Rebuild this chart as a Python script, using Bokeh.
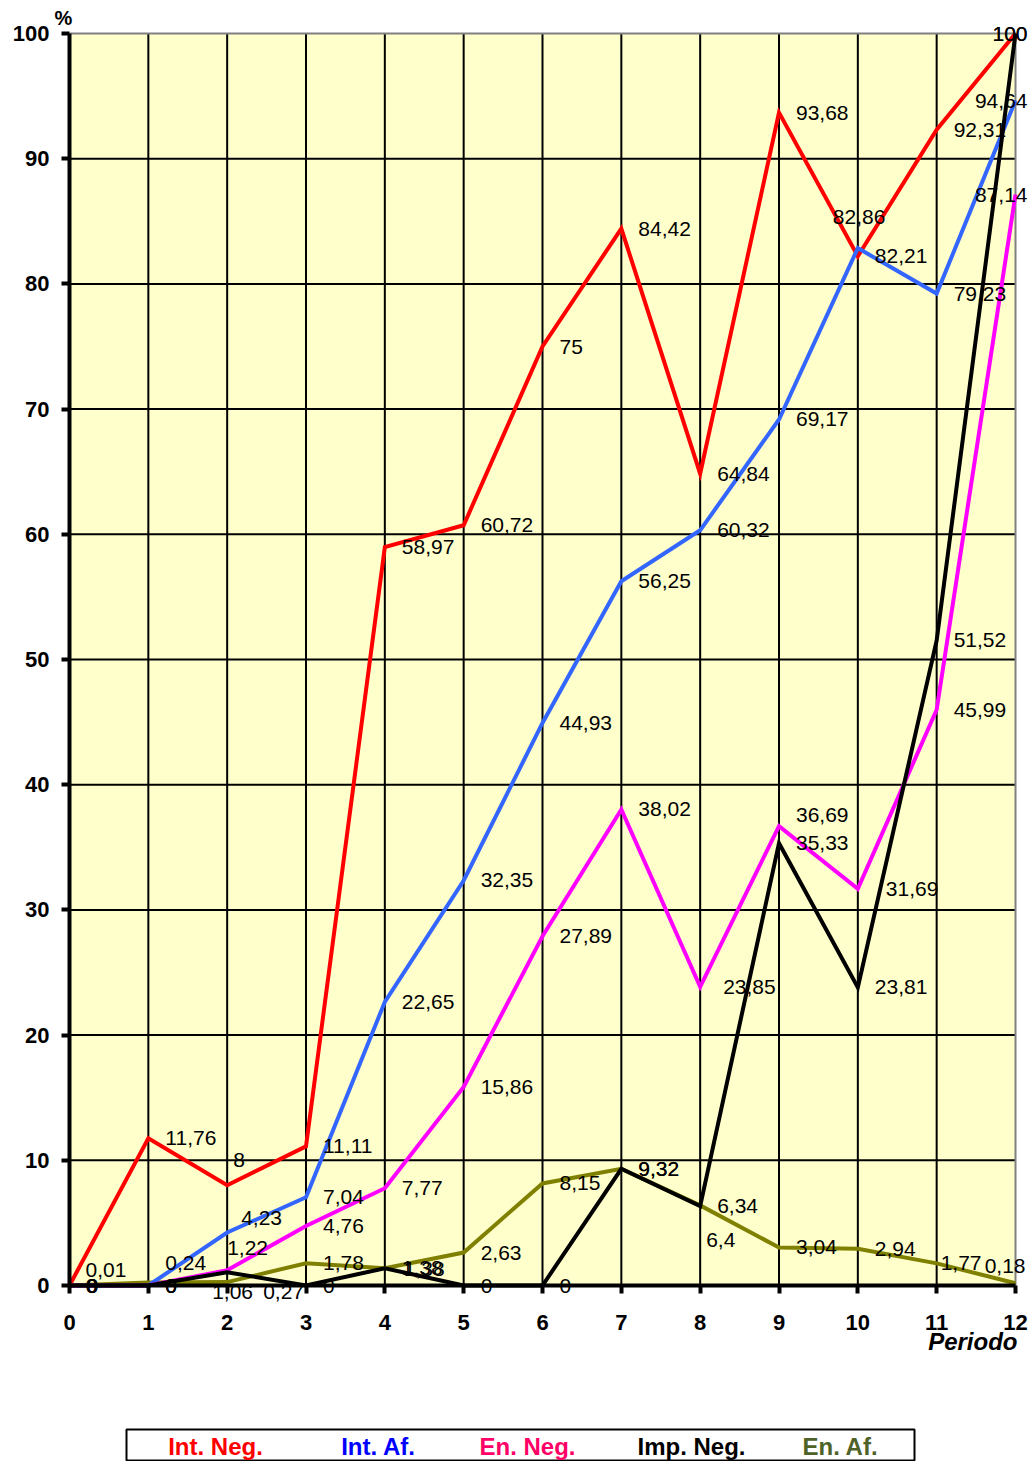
from bokeh.plotting import figure
from bokeh.models import (Range1d, FixedTicker, ColumnDataSource, LabelSet, Label,
                          LinearAxis, BoxAnnotation)
from bokeh.layouts import column
from bokeh.embed import file_html
from bokeh.resources import INLINE
from bokeh.core.properties import value

# ---- data -------------------------------------------------------------
periods = list(range(13))
int_neg = [0, 11.76, 8, 11.11, 58.97, 60.72, 75, 84.42, 64.84, 93.68, 82.21, 92.31, 100]
int_af = [0, 0, 4.23, 7.04, 22.65, 32.35, 44.93, 56.25, 60.32, 69.17, 82.86, 79.23, 94.64]
en_neg = [0, 0, 1.22, 4.76, 7.77, 15.86, 27.89, 38.02, 23.85, 36.69, 31.69, 45.99, 87.14]
imp_neg = [0, 0, 1.06, 0, 1.38, 0, 0, 9.32, 6.34, 35.33, 23.81, 51.52, 100]
en_af = [0.01, 0.24, 0.27, 1.78, 1.38, 2.63, 8.15, 9.32, 6.4, 3.04, 2.94, 1.77, 0.18]

series_names = ["Int. Neg.", "Int. Af.", "En. Neg.", "Imp. Neg.", "En. Af."]
y_ticks = list(range(0, 101, 10))

# ---- styling ----------------------------------------------------------
FONT = "Liberation Sans"
line_colors = {
    "Int. Neg.": "#FF0000",
    "Int. Af.": "#3366FF",
    "En. Neg.": "#FF00FF",
    "Imp. Neg.": "#000000",
    "En. Af.": "#808000",
}
legend_colors = {
    "Int. Neg.": "#FF0000",
    "Int. Af.": "#0000FF",
    "En. Neg.": "#FF0066",
    "Imp. Neg.": "#000000",
    "En. Af.": "#4F6228",
}

# label nudges in screen pixels (dx right, dy down); default is (17, 0)
nudges = {
    "Int. Neg.": {0: (16, 0), 2: (6, -25), 12: (12, 0, "right")},
    "Int. Af.": {2: (14, -15), 10: (-25, -31), 12: (12, 0, "right")},
    "En. Neg.": {2: (0, -22), 8: (23, 0), 9: (17, -11), 10: (28, 0), 12: (12, 0, "right")},
    "Imp. Neg.": {2: (-15, 20), 12: (12, 0, "right")},
    "En. Af.": {0: (16, -15), 1: (17, -19), 2: (36, 10), 4: (19, 1), 8: (6, 35),
                11: (4, 0), 12: (10, -17, "right")},
}

values = {
    "Int. Neg.": int_neg,
    "Int. Af.": int_af,
    "En. Neg.": en_neg,
    "Imp. Neg.": imp_neg,
    "En. Af.": en_af,
}


def fmt(v):
    return f"{v:g}".replace(".", ",")


# ---- page geometry (pixels) --------------------------------------------
W, H = 1032, 1400
PLOT_L, PLOT_R, PLOT_T, PLOT_B = 69, 1015, 33, 1285
x0, x1 = periods[0], periods[-1]
y0, y1 = y_ticks[0], y_ticks[-1]
kx = (PLOT_R - PLOT_L) / (x1 - x0)
ky = (PLOT_B - PLOT_T) / (y1 - y0)

# the frame fills the whole canvas so that labels beyond the plot area stay visible
p = figure(
    frame_width=W, frame_height=H,
    min_border=0, min_border_left=0, min_border_right=0,
    min_border_top=0, min_border_bottom=0,
    x_range=Range1d(x0 - PLOT_L / kx, x1 + (W - PLOT_R) / kx),
    y_range=Range1d(y0 - (H - PLOT_B) / ky, y1 + PLOT_T / ky),
    x_axis_location=None, y_axis_location=None,
    output_backend="svg", toolbar_location=None,
)
p.background_fill_color = "white"
p.border_fill_color = "white"
p.outline_line_color = None
p.grid.visible = False

# plot area
p.add_layout(BoxAnnotation(left=x0, right=x1, bottom=y0, top=y1,
                           fill_color="#FFFFCC", fill_alpha=1, line_color=None,
                           level="underlay"))

# grid lines
gx = periods[1:-1]
p.segment(x0=gx, y0=[y0] * len(gx), x1=gx, y1=[y1] * len(gx),
          line_color="black", line_width=2)
gy = y_ticks[1:-1]
p.segment(x0=[x0] * len(gy), y0=gy, x1=[x1] * len(gy), y1=gy,
          line_color="black", line_width=2)

# top and right border
p.line([x0, x1, x1], [y1, y1, y0], line_color="#808080", line_width=2)

# series lines (olive underneath the rest)
draw_order = ["En. Af.", "Int. Neg.", "Int. Af.", "En. Neg.", "Imp. Neg."]
for name in draw_order:
    p.line(periods, values[name], line_color=line_colors[name], line_width=4,
           line_join="miter")

# axes pinned to the plot area
xaxis = LinearAxis(fixed_location=y0, bounds=(x0, x1), ticker=FixedTicker(ticks=periods))
yaxis = LinearAxis(fixed_location=x0, bounds=(y0, y1), ticker=FixedTicker(ticks=y_ticks))
for ax in (xaxis, yaxis):
    ax.axis_line_width = 4
    ax.axis_line_color = "black"
    ax.major_tick_line_width = 4
    ax.major_tick_in = 0
    ax.major_tick_out = 8
    ax.minor_tick_line_color = None
    ax.major_label_text_font = FONT
    ax.major_label_text_font_style = "bold"
    ax.major_label_text_font_size = "22px"
    ax.major_label_text_color = "black"
xaxis.major_label_standoff = 21
yaxis.major_label_standoff = 12
p.add_layout(xaxis, "below")
p.add_layout(yaxis, "left")

# value labels
lx, ly, lt, ldx, ldy, lal = [], [], [], [], [], []
for name in series_names:
    for i, v in enumerate(values[name]):
        n = nudges[name].get(i, (17, 0))
        lx.append(periods[i])
        ly.append(v)
        lt.append(fmt(v))
        ldx.append(n[0])
        ldy.append(-n[1])
        lal.append(n[2] if len(n) > 2 else "left")

src = ColumnDataSource(dict(x=lx, y=ly, t=lt, dx=ldx, dy=ldy, al=lal))
labels = LabelSet(x="x", y="y", text="t", x_offset="dx", y_offset="dy", source=src,
                  text_align="al", text_baseline="middle", text_font=value(FONT),
                  text_font_size="21px", text_color="black")
p.add_layout(labels)

p.add_layout(Label(x=x0, y=y1, text="%", x_offset=-6, y_offset=5, text_align="center",
                   text_baseline="bottom", text_font=FONT, text_font_style="bold",
                   text_font_size="20px", text_color="black"))
p.add_layout(Label(x=x1, y=y0, text="Periodo", x_offset=2, y_offset=-56,
                   text_align="right", text_baseline="middle", text_font=FONT,
                   text_font_style="bold italic", text_font_size="24px",
                   text_color="black"))

# legend strip: x in page pixels, y measured downward from the strip top
LEG_H = 61
leg = figure(
    frame_width=W, frame_height=LEG_H,
    min_border=0, min_border_left=0, min_border_right=0,
    min_border_top=0, min_border_bottom=0,
    x_range=Range1d(0, W), y_range=Range1d(LEG_H, 0),
    x_axis_location=None, y_axis_location=None,
    output_backend="svg", toolbar_location=None,
)
leg.grid.visible = False
leg.outline_line_color = None
leg.background_fill_color = "white"
leg.border_fill_color = "white"
leg.quad(left=[126], right=[914], top=[29], bottom=[60], fill_color="white",
         line_color="black", line_width=2)
leg_x = [215, 378, 527, 691, 840]
leg.text(x=leg_x, y=[46] * 5, text=series_names,
         text_color=[legend_colors[n] for n in series_names],
         text_align="center", text_baseline="middle",
         text_font=value(FONT), text_font_style="bold", text_font_size="24px")

layout = column(p, leg, spacing=0)
open("out.html", "w").write(file_html(layout, INLINE))
